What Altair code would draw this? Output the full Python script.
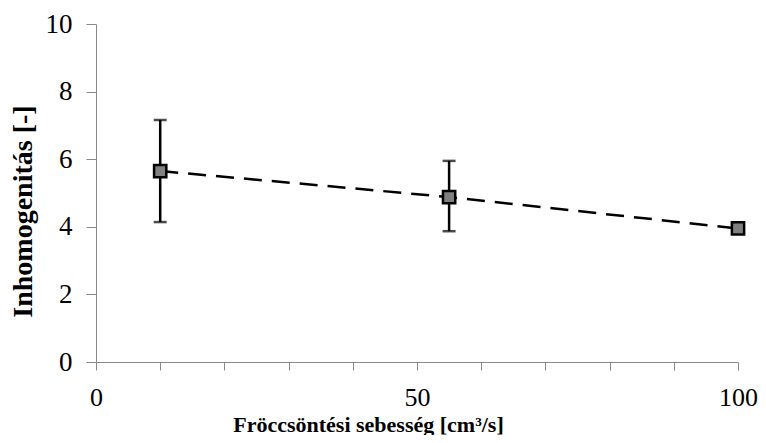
import altair as alt
import pandas as pd

speed = [10, 55, 100]
inhom = [5.65, 4.88, 3.95]
err_lo = [4.14, 3.87, 3.86]
err_hi = [7.16, 5.95, 4.06]

df = pd.DataFrame({"x": speed, "y": inhom, "lo": err_lo, "hi": err_hi})

xscale = alt.Scale(domain=[0, 100], nice=False)
yscale = alt.Scale(domain=[0, 10], nice=False)

xaxis = alt.Axis(
    values=list(range(0, 101, 10)),
    labelExpr="datum.value % 50 == 0 ? datum.label : ''",
    title="Fröccsöntési sebesség [cm³/s]",
    grid=False, domainColor="#888888", tickColor="#888888", tickSize=8,
    labelFont="Liberation Serif", labelFontSize=26, labelColor="#000000",
    labelPadding=14, labelFlush=False,
    titleFont="Liberation Serif", titleFontSize=22, titleFontWeight="bold",
    titleColor="#000000", titleX=272, titleY=69, titleBaseline="alphabetic",
    titleAlign="center", titleAnchor="start",
)
yaxis = alt.Axis(
    values=list(range(0, 11, 2)),
    title="Inhomogenitás [-]",
    grid=False, domainColor="#888888", tickColor="#888888", tickSize=10,
    labelFont="Liberation Serif", labelFontSize=27, labelColor="#000000",
    labelPadding=14,
    titleFont="Liberation Serif", titleFontSize=28, titleFontWeight="bold",
    titleColor="#000000", titlePadding=8, titleY=187, titleAlign="center",
    titleAnchor="start",
)

base = alt.Chart(df)

line = base.mark_line(color="black", strokeWidth=2.5, strokeDash=[18, 10]).encode(
    x=alt.X("x:Q", scale=xscale, axis=xaxis),
    y=alt.Y("y:Q", scale=yscale, axis=yaxis),
)
rule = base.mark_rule(color="black", strokeWidth=2.5).encode(
    x="x:Q", y="lo:Q", y2="hi:Q"
)
cap_lo = base.mark_tick(color="black", thickness=2.5, size=13, orient="horizontal").encode(
    x="x:Q", y="lo:Q"
)
cap_hi = base.mark_tick(color="black", thickness=2.5, size=13, orient="horizontal").encode(
    x="x:Q", y="hi:Q"
)
pts = base.mark_point(shape="square", filled=True, fill="#808080", stroke="black",
                      strokeWidth=2.5, size=150, opacity=1).encode(
    x="x:Q", y="y:Q"
)

chart = alt.layer(line, rule, cap_lo, cap_hi, pts).properties(
    width=642, height=338,
    background="white",
    autosize=alt.AutoSizeParams(type="none"),
    padding={"left": 88, "top": 16, "right": 20, "bottom": 73},
).configure_view(stroke=None)

chart.save("out.html", embed_options={"renderer": "svg", "actions": False})
